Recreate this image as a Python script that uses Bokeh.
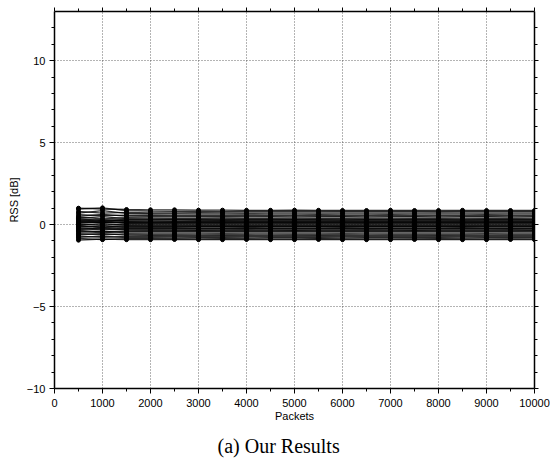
from bokeh.plotting import figure
from bokeh.models import (LinearAxis, Range1d, FixedTicker, Title, ColumnDataSource,
                          CustomJSTickFormatter)
from bokeh.embed import file_html
from bokeh.resources import INLINE

packets = [500, 1000, 1500, 2000, 2500, 3000, 3500, 4000, 4500, 5000,
           5500, 6000, 6500, 7000, 7500, 8000, 8500, 9000, 9500, 10000]

rss_01 = [1.00,0.95,0.92,0.90,0.90,0.88,0.88,0.87,0.87,0.88,0.87,0.86,0.86,0.87,0.86,0.86,0.87,0.86,0.86,0.86]
rss_02 = [0.95,1.02,0.85,0.82,0.80,0.80,0.79,0.80,0.81,0.80,0.80,0.81,0.80,0.80,0.80,0.79,0.80,0.80,0.80,0.80]
rss_03 = [0.80,0.70,0.75,0.72,0.72,0.73,0.72,0.72,0.71,0.72,0.72,0.72,0.71,0.71,0.72,0.72,0.71,0.72,0.71,0.72]
rss_04 = [0.70,0.85,0.68,0.66,0.65,0.64,0.64,0.65,0.64,0.64,0.63,0.64,0.64,0.63,0.64,0.64,0.64,0.63,0.64,0.64]
rss_05 = [0.60,0.55,0.58,0.57,0.56,0.55,0.55,0.56,0.55,0.55,0.55,0.54,0.55,0.55,0.54,0.55,0.55,0.54,0.55,0.55]
rss_06 = [0.50,0.62,0.52,0.50,0.48,0.48,0.49,0.48,0.48,0.47,0.48,0.48,0.47,0.48,0.48,0.47,0.48,0.48,0.47,0.48]
rss_07 = [0.45,0.35,0.42,0.41,0.40,0.40,0.41,0.40,0.40,0.40,0.39,0.40,0.40,0.40,0.39,0.40,0.40,0.39,0.40,0.40]
rss_08 = [0.38,0.48,0.36,0.35,0.34,0.34,0.33,0.34,0.34,0.33,0.34,0.34,0.33,0.33,0.34,0.34,0.33,0.34,0.34,0.33]
rss_09 = [0.30,0.20,0.28,0.27,0.27,0.26,0.27,0.26,0.26,0.27,0.26,0.26,0.27,0.26,0.26,0.26,0.27,0.26,0.26,0.26]
rss_10 = [0.25,0.30,0.22,0.21,0.20,0.20,0.21,0.20,0.20,0.20,0.19,0.20,0.20,0.20,0.19,0.20,0.20,0.20,0.19,0.20]
rss_11 = [0.18,0.10,0.15,0.14,0.14,0.13,0.14,0.14,0.13,0.14,0.14,0.13,0.14,0.14,0.13,0.14,0.13,0.14,0.14,0.13]
rss_12 = [0.10,0.15,0.08,0.08,0.07,0.07,0.08,0.07,0.07,0.07,0.08,0.07,0.07,0.07,0.07,0.08,0.07,0.07,0.07,0.07]
rss_13 = [0.05,-0.05,0.02,0.01,0.01,0.00,0.01,0.00,0.00,0.01,0.00,0.00,0.01,0.00,0.00,0.00,0.01,0.00,0.00,0.00]
rss_14 = [-0.02,0.05,-0.05,-0.06,-0.06,-0.06,-0.07,-0.06,-0.06,-0.06,-0.07,-0.06,-0.06,-0.07,-0.06,-0.06,-0.06,-0.07,-0.06,-0.06]
rss_15 = [-0.10,-0.18,-0.12,-0.12,-0.13,-0.13,-0.12,-0.13,-0.13,-0.13,-0.12,-0.13,-0.13,-0.13,-0.13,-0.12,-0.13,-0.13,-0.13,-0.13]
rss_16 = [-0.15,-0.08,-0.18,-0.19,-0.19,-0.20,-0.20,-0.19,-0.20,-0.20,-0.20,-0.19,-0.20,-0.20,-0.20,-0.20,-0.19,-0.20,-0.20,-0.20]
rss_17 = [-0.25,-0.32,-0.26,-0.27,-0.27,-0.27,-0.26,-0.27,-0.27,-0.27,-0.27,-0.26,-0.27,-0.27,-0.27,-0.27,-0.27,-0.26,-0.27,-0.27]
rss_18 = [-0.30,-0.22,-0.32,-0.33,-0.34,-0.34,-0.34,-0.33,-0.34,-0.34,-0.34,-0.34,-0.33,-0.34,-0.34,-0.34,-0.34,-0.34,-0.33,-0.34]
rss_19 = [-0.40,-0.50,-0.42,-0.42,-0.41,-0.41,-0.42,-0.41,-0.41,-0.41,-0.41,-0.42,-0.41,-0.41,-0.41,-0.41,-0.42,-0.41,-0.41,-0.41]
rss_20 = [-0.48,-0.40,-0.50,-0.50,-0.50,-0.51,-0.50,-0.50,-0.51,-0.50,-0.50,-0.50,-0.51,-0.50,-0.50,-0.50,-0.50,-0.51,-0.50,-0.50]
rss_21 = [-0.55,-0.62,-0.57,-0.58,-0.58,-0.58,-0.57,-0.58,-0.58,-0.58,-0.58,-0.57,-0.58,-0.58,-0.58,-0.58,-0.58,-0.57,-0.58,-0.58]
rss_22 = [-0.62,-0.55,-0.64,-0.65,-0.65,-0.66,-0.65,-0.65,-0.66,-0.65,-0.65,-0.65,-0.66,-0.65,-0.65,-0.65,-0.65,-0.66,-0.65,-0.65]
rss_23 = [-0.70,-0.78,-0.72,-0.72,-0.73,-0.73,-0.72,-0.73,-0.73,-0.73,-0.72,-0.73,-0.73,-0.73,-0.73,-0.72,-0.73,-0.73,-0.73,-0.73]
rss_24 = [-0.78,-0.70,-0.80,-0.80,-0.81,-0.80,-0.80,-0.81,-0.80,-0.80,-0.80,-0.81,-0.80,-0.80,-0.80,-0.80,-0.81,-0.80,-0.80,-0.80]
rss_25 = [-0.85,-0.92,-0.86,-0.86,-0.87,-0.87,-0.86,-0.87,-0.87,-0.87,-0.86,-0.87,-0.87,-0.87,-0.87,-0.86,-0.87,-0.87,-0.87,-0.87]
rss_26 = [-0.95,-0.88,-0.92,-0.92,-0.91,-0.92,-0.92,-0.91,-0.92,-0.92,-0.91,-0.92,-0.92,-0.92,-0.91,-0.92,-0.92,-0.92,-0.91,-0.92]
rss_27 = [0.22,0.12,0.18,0.17,0.17,0.16,0.17,0.16,0.16,0.16,0.17,0.16,0.16,0.16,0.16,0.17,0.16,0.16,0.16,0.16]
rss_28 = [-0.05,-0.15,-0.08,-0.09,-0.09,-0.10,-0.09,-0.10,-0.10,-0.09,-0.10,-0.10,-0.10,-0.09,-0.10,-0.10,-0.10,-0.09,-0.10,-0.10]
rss_29 = [0.35,0.25,0.31,0.30,0.30,0.30,0.29,0.30,0.30,0.30,0.30,0.29,0.30,0.30,0.30,0.30,0.29,0.30,0.30,0.30]
rss_30 = [-0.20,-0.28,-0.23,-0.23,-0.24,-0.24,-0.23,-0.24,-0.24,-0.24,-0.23,-0.24,-0.24,-0.24,-0.24,-0.23,-0.24,-0.24,-0.24,-0.24]
rss_31 = [0.12,0.22,0.11,0.10,0.10,0.10,0.11,0.10,0.10,0.10,0.10,0.11,0.10,0.10,0.10,0.10,0.11,0.10,0.10,0.10]
rss_32 = [-0.35,-0.45,-0.38,-0.38,-0.38,-0.37,-0.38,-0.38,-0.38,-0.37,-0.38,-0.38,-0.38,-0.38,-0.37,-0.38,-0.38,-0.38,-0.38,-0.37]

all_series = [rss_01, rss_02, rss_03, rss_04, rss_05, rss_06, rss_07, rss_08,
              rss_09, rss_10, rss_11, rss_12, rss_13, rss_14, rss_15, rss_16,
              rss_17, rss_18, rss_19, rss_20, rss_21, rss_22, rss_23, rss_24,
              rss_25, rss_26, rss_27, rss_28, rss_29, rss_30, rss_31, rss_32]

x_ticks = [0, 1000, 2000, 3000, 4000, 5000, 6000, 7000, 8000, 9000, 10000]
x_minor = [500, 1500, 2500, 3500, 4500, 5500, 6500, 7500, 8500, 9500]
y_ticks = [-10, -5, 0, 5, 10]
y_minor = [-9, -8, -7, -6, -4, -3, -2, -1, 1, 2, 3, 4, 6, 7, 8, 9, 11, 12]
y_label_overrides = {-10: "\u221210", -5: "\u22125"}

FONT = "Liberation Sans"

p = figure(width=550, height=464, output_backend="svg", toolbar_location=None,
           x_range=Range1d(0, 10000), y_range=Range1d(-10, 13),
           x_axis_label="Packets", y_axis_label="RSS [dB]",
           min_border_left=54, min_border_right=16, min_border_top=11,
           min_border_bottom=0)
p.outline_line_color = None
p.background_fill_color = "white"
p.border_fill_color = "white"

xt = FixedTicker(ticks=x_ticks, minor_ticks=x_minor)
yt = FixedTicker(ticks=y_ticks, minor_ticks=y_minor)

def style_axis(ax):
    ax.axis_line_color = "black"
    ax.axis_line_width = 1.5
    ax.major_tick_line_color = "black"
    ax.minor_tick_line_color = "black"
    ax.major_tick_line_width = 1
    ax.minor_tick_line_width = 1
    ax.major_tick_in = 0
    ax.major_tick_out = 5
    ax.minor_tick_in = 0
    ax.minor_tick_out = 3
    ax.major_label_text_font = FONT
    ax.major_label_text_font_size = "11px"
    ax.major_label_text_color = "black"
    ax.axis_label_text_font = FONT
    ax.axis_label_text_font_size = "11px"
    ax.axis_label_text_font_style = "normal"
    ax.axis_label_text_color = "black"

for ax in p.xaxis:
    ax.ticker = xt
    style_axis(ax)
    ax.major_label_standoff = 5
    ax.axis_label_standoff = 0
for ax in p.yaxis:
    ax.ticker = yt
    style_axis(ax)
    ax.major_label_overrides = y_label_overrides
    ax.major_label_standoff = 4
    ax.axis_label_standoff = 4

blank = CustomJSTickFormatter(code="return '';")
top = LinearAxis(ticker=xt, formatter=blank, major_label_standoff=0)
style_axis(top)
top.major_tick_out = 4
p.add_layout(top, "above")
right = LinearAxis(ticker=yt, formatter=blank, major_label_standoff=0)
style_axis(right)
right.major_tick_out = 4
p.add_layout(right, "right")

p.xgrid.ticker = xt
p.ygrid.ticker = yt
for g in (p.xgrid, p.ygrid):
    g.grid_line_color = "#444444"
    g.grid_line_dash = "1 2"
    g.grid_line_width = 1
    g.grid_line_alpha = 0.8

src = ColumnDataSource(dict(xs=[packets] * len(all_series), ys=all_series))
p.multi_line(xs="xs", ys="ys", source=src, line_color="black", line_width=1.3, line_alpha=0.8)

flat_x = [x for s in all_series for x in packets]
flat_y = [y for s in all_series for y in s]
p.scatter(flat_x, flat_y, size=4, color="black", marker="circle")

caption = Title(text="(a)  Our Results", align="left", text_font="Liberation Serif",
                text_font_size="20px", text_font_style="normal", text_color="black",
                text_baseline="alphabetic", offset=163, standoff=16)
p.add_layout(caption, "below")

open("out.html", "w").write(file_html(p, INLINE))
